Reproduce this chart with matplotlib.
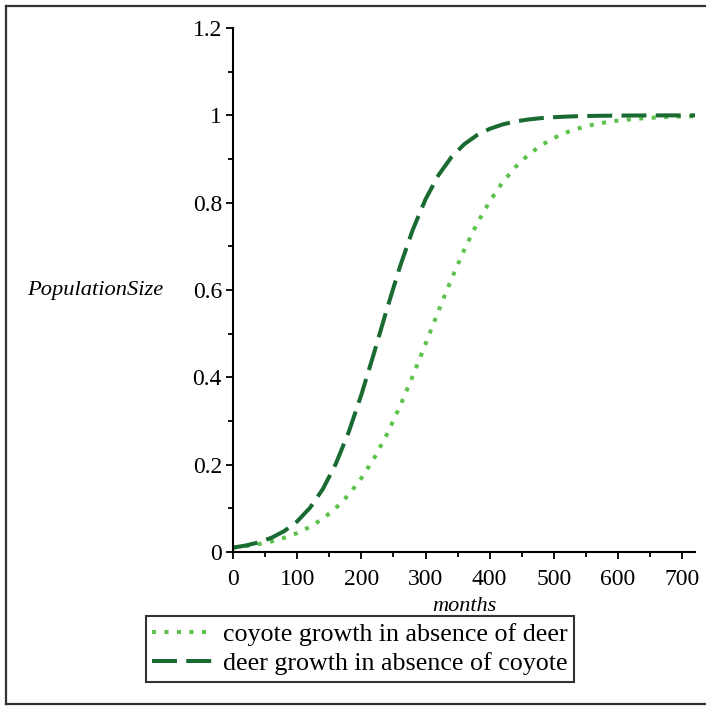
import matplotlib
matplotlib.use('Agg')
import matplotlib.pyplot as plt
from matplotlib.lines import Line2D
from matplotlib.ticker import MultipleLocator, FuncFormatter

# months, sampled every 20
months = [0, 20, 40, 60, 80, 100, 120, 140, 160, 180, 200, 220, 240, 260, 280, 300,
          320, 340, 360, 380, 400, 420, 440, 460, 480, 500, 520, 540, 560, 580, 600,
          620, 640, 660, 680, 700, 720]

deer = [0.0100, 0.0149, 0.0221, 0.0326, 0.0480, 0.0701, 0.1013, 0.1441, 0.2011, 0.2734,
        0.3600, 0.4567, 0.5568, 0.6526, 0.7374, 0.8076, 0.8625, 0.9036, 0.9334, 0.9544,
        0.9690, 0.9791, 0.9859, 0.9905, 0.9936, 0.9957, 0.9971, 0.9981, 0.9987, 0.9991,
        0.9994, 0.9996, 0.9997, 0.9998, 0.9999, 0.9999, 0.9999]

coyote = [0.0100, 0.0135, 0.0181, 0.0242, 0.0325, 0.0433, 0.0576, 0.0762, 0.1002, 0.1307,
          0.1687, 0.2150, 0.2699, 0.3329, 0.4025, 0.4763, 0.5511, 0.6236, 0.6910, 0.7512,
          0.8030, 0.8462, 0.8813, 0.9093, 0.9312, 0.9481, 0.9610, 0.9708, 0.9782, 0.9838,
          0.9879, 0.9910, 0.9933, 0.9951, 0.9963, 0.9973, 0.9980]

labels = ['coyote growth in absence of deer', 'deer growth in absence of coyote']

W = 706
plt.rcParams['font.family'] = ['Liberation Serif', 'DejaVu Serif']

fig = plt.figure(figsize=(7.06, 7.06), dpi=100)
ax = fig.add_axes([233 / W, 1 - 552 / W, (695 - 233) / W, (552 - 28) / W])

light = '#5cc24c'
dark = '#196b32'
ax.plot(months, coyote, color=light, lw=2.9, linestyle=(0, (1.0, 2.1)),
        dash_capstyle='butt', label=labels[0])
ax.plot(months, deer, color=dark, lw=2.9, linestyle=(0, (6.2, 2.3)),
        dash_capstyle='butt', label=labels[1])

ax.set_xlim(0, 720)
ax.set_ylim(0, 1.2)
ax.spines['top'].set_visible(False)
ax.spines['right'].set_visible(False)
for s in ('left', 'bottom'):
    ax.spines[s].set_linewidth(1.5)

ax.xaxis.set_major_locator(MultipleLocator(100))
ax.xaxis.set_minor_locator(MultipleLocator(50))
ax.yaxis.set_major_locator(MultipleLocator(0.2))
ax.yaxis.set_minor_locator(MultipleLocator(0.1))
ax.yaxis.set_major_formatter(FuncFormatter(lambda v, p: f'{v:g}'))
ax.tick_params(which='major', direction='out', length=5, width=1.3, labelsize=17)
ax.tick_params(axis='x', which='major', pad=7)
ax.tick_params(axis='y', which='major', pad=3)
ax.tick_params(which='minor', direction='out', length=3.5, width=1.3)

ax.set_xlabel('months', style='italic', fontsize=16, labelpad=5)
fig.text(27 / W, 1 - 290 / W, 'PopulationSize', style='italic', fontsize=16.2,
         ha='left', va='center')

leg = fig.legend(loc='upper left', bbox_to_anchor=(146 / W, 1 - 616 / W),
                 frameon=True, fancybox=False, edgecolor='black', fontsize=18.7,
                 handlelength=2.3, handletextpad=0.4, borderpad=0.25,
                 labelspacing=0.25, borderaxespad=0)
leg.get_frame().set_linewidth(1.5)

# outer border (left, top, bottom)
bc = '#333333'
fig.add_artist(Line2D([6 / W, 6 / W], [1 - 6 / W, 1 - 704 / W], color=bc, lw=1.6))
fig.add_artist(Line2D([6 / W, 1], [1 - 6 / W, 1 - 6 / W], color=bc, lw=1.6))
fig.add_artist(Line2D([6 / W, 1], [1 - 704 / W, 1 - 704 / W], color=bc, lw=1.6))

fig.savefig('out.png', dpi=100)
